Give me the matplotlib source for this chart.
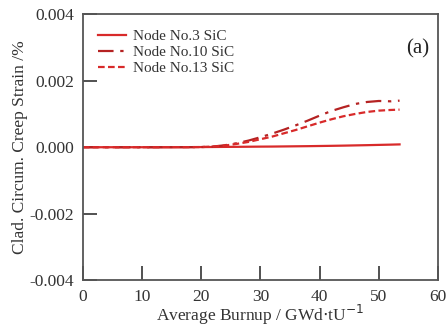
import matplotlib
matplotlib.use("Agg")
import matplotlib.pyplot as plt

# burnup values (GWd/tU) and creep strain (%)
burnup = [0, 5, 10, 15, 20, 22, 24, 26, 28, 30, 32, 34, 36, 38, 40, 42, 44, 46, 48, 50, 52, 53.5]
node3 = [0, 0, 0, 0, 0.000005, 0.000007, 0.00001, 0.000012, 0.000015, 0.000018, 0.00002, 0.000024,
         0.000028, 0.000032, 0.000037, 0.000042, 0.000048, 0.000055, 0.000062, 0.00007, 0.000078, 0.000085]
node10 = [0, 0, 0, 0, 0.000005, 0.00002, 0.00006, 0.00012, 0.0002, 0.0003, 0.00041, 0.00053,
          0.00066, 0.0008, 0.00095, 0.00109, 0.0012, 0.0013, 0.00136, 0.00139, 0.00138, 0.0014]
node13 = [0, 0, 0, 0, 0.000005, 0.00002, 0.00005, 0.0001, 0.00016, 0.00024, 0.00032, 0.00042,
          0.00052, 0.00063, 0.00074, 0.00084, 0.00093, 0.001, 0.00106, 0.0011, 0.00112, 0.00113]

plt.rcParams['font.family'] = ['Liberation Serif', 'DejaVu Serif']

fig, ax = plt.subplots(figsize=(4.47, 3.29), dpi=100)
fig.subplots_adjust(left=0.185, right=0.98, top=0.957, bottom=0.148)

ax.plot(burnup, node3, color="#d82a2a", lw=1.6, label="Node No.3 SiC")
ax.plot(burnup, node10, color="#b52222", lw=1.6, dashes=(7, 3, 1.5, 3), label="Node No.10 SiC")
ax.plot(burnup, node13, color="#d82a2a", lw=1.6, dashes=(3, 1.5), label="Node No.13 SiC")

ax.set_xlim(0, 60)
ax.set_ylim(-0.004, 0.004)
ax.set_xticks([0, 10, 20, 30, 40, 50, 60])
ax.set_yticks([-0.004, -0.002, 0.0, 0.002, 0.004])
ax.set_yticklabels(["-0.004", "-0.002", "0.000", "0.002", "0.004"])
ax.tick_params(direction="in", length=10, width=1.2, labelsize=12.5, colors="#333333",
               top=False, right=False, pad=6)
for s in ax.spines.values():
    s.set_color("#555555")
    s.set_linewidth(1.3)

ax.set_xlabel("Average Burnup / GWd$\\cdot$tU$^{-1}$", fontsize=12.5, color="#333333", labelpad=-1)
ax.set_ylabel("Clad. Circum. Creep Strain /%", fontsize=12.5, color="#333333", labelpad=1)

leg = ax.legend(loc="upper left", frameon=False, fontsize=11, handlelength=1.85,
                handletextpad=0.45, labelspacing=0.15, borderaxespad=0.6)
for t in leg.get_texts():
    t.set_color("#333333")
ax.text(0.975, 0.87, "(a)", transform=ax.transAxes, ha="right", va="center", fontsize=15,
        color="#222222")

fig.savefig("out.png", dpi=100)
